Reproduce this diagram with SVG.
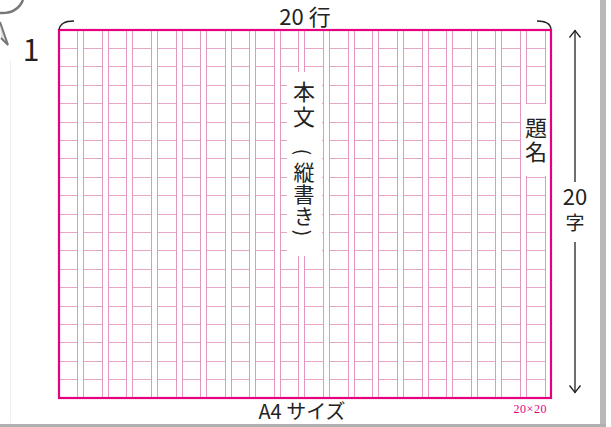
<svg xmlns="http://www.w3.org/2000/svg" width="611" height="427" viewBox="0 0 611 427">
<style>
.vg{stroke:#e598bf;stroke-width:1;fill:none}
.hg{stroke:#e8a6c6;stroke-width:1;fill:none}
.gap{fill:#fff}
.bd{stroke:#e5007f;stroke-width:2.2;fill:none}
.t{font-family:"Noto Sans CJK JP","Noto Sans",sans-serif;fill:#222}
.v{writing-mode:vertical-rl}
.ln{stroke:#222;stroke-width:1.3;fill:none}
</style>
<rect width="611" height="427" fill="#fff"/>
<g id="page-edge">
<line x1="10.5" y1="60" x2="10.5" y2="423" stroke="#f0f0f0" stroke-width="1"/>
<rect x="600" y="0" width="6" height="425" fill="#b8b8b8"/>
<rect x="0" y="424" width="606" height="3" fill="#b0b0b0"/>
</g>
<g id="bubble">
<path d="M0,13 Q17,14 23,0" stroke="#777" stroke-width="2.5" fill="none"/>
<path d="M0,22 L8,45 L1,38" stroke="#777" stroke-width="2" fill="#ddd"/>
</g>
<g id="number"><text class="t" x="31" y="61" font-size="30" text-anchor="middle">1</text></g>
<g id="grid">
<path class="hg" d="M59,48.5H551M59,66.5H551M59,85.5H551M59,103.5H551M59,122.5H551M59,140.5H551M59,158.5H551M59,177.5H551M59,195.5H551M59,214.5H551M59,232.5H551M59,250.5H551M59,269.5H551M59,287.5H551M59,306.5H551M59,324.5H551M59,342.5H551M59,361.5H551M59,379.5H551"/>
<path class="gap" d="M78,30h5v368h-5zM103,30h5v368h-5zM127,30h5v368h-5zM152,30h5v368h-5zM177,30h5v368h-5zM201,30h5v368h-5zM226,30h5v368h-5zM250,30h5v368h-5zM275,30h5v368h-5zM299,30h5v368h-5zM324,30h5v368h-5zM349,30h5v368h-5zM373,30h5v368h-5zM398,30h5v368h-5zM423,30h5v368h-5zM447,30h5v368h-5zM472,30h5v368h-5zM496,30h5v368h-5zM521,30h5v368h-5zM546,30h5v368h-5z"/>
<path class="vg" d="M77.5,30V398M83.5,30V398M102.5,30V398M108.5,30V398M126.5,30V398M132.5,30V398M151.5,30V398M157.5,30V398M176.5,30V398M182.5,30V398M200.5,30V398M206.5,30V398M225.5,30V398M231.5,30V398M249.5,30V398M255.5,30V398M274.5,30V398M280.5,30V398M298.5,30V398M304.5,30V398M323.5,30V398M329.5,30V398M348.5,30V398M354.5,30V398M372.5,30V398M378.5,30V398M397.5,30V398M403.5,30V398M422.5,30V398M428.5,30V398M446.5,30V398M452.5,30V398M471.5,30V398M477.5,30V398M495.5,30V398M501.5,30V398M520.5,30V398M526.5,30V398M545.5,30V398"/>
<rect class="bd" x="59" y="30" width="492" height="368"/>
</g>
<g id="honbun">
<rect x="287" y="72" width="35" height="184" fill="#fff"/>
<text class="t v" font-size="22" letter-spacing="3" x="304" y="81">本文</text>
<text class="t" font-size="19" text-anchor="middle" dominant-baseline="central" transform="translate(304,152) rotate(90)">(</text>
<text class="t v" font-size="21" letter-spacing="1" x="304" y="162">縦書き</text>
<text class="t" font-size="19" text-anchor="middle" dominant-baseline="central" transform="translate(304,233) rotate(90)">)</text>
</g>
<g id="daimei">
<rect x="522" y="104" width="27" height="72" fill="#fff"/>
<text class="t v" font-size="22" letter-spacing="2" x="536" y="117">題名</text>
</g>
<g id="top-label">
<text class="t" x="305" y="25" font-size="22" text-anchor="middle">20 行</text>
</g>
<g id="bottom-label">
<text class="t" x="302" y="419" font-size="20" text-anchor="middle">A4 サイズ</text>
<text x="530" y="413" font-size="12" text-anchor="middle" font-family="Liberation Serif,serif" fill="#e5007f" textLength="33" lengthAdjust="spacing">20×20</text>
</g>
<g id="right-label">
<text class="t" x="575" y="205" font-size="22" text-anchor="middle">20</text>
<text class="t v" x="575" y="213" font-size="19">字</text>
</g>
<g id="connectors">
<path class="ln" d="M59,30 Q60,21 74,21"/>
<path class="ln" d="M537,21 Q550,21 551,29"/>
<path class="ln" d="M575,30V182M575,242V393"/>
<path class="ln" d="M569.5,37.5L575,30.5L580.5,37.5M569.5,385.5L575,392.5L580.5,385.5"/>
</g>
</svg>
